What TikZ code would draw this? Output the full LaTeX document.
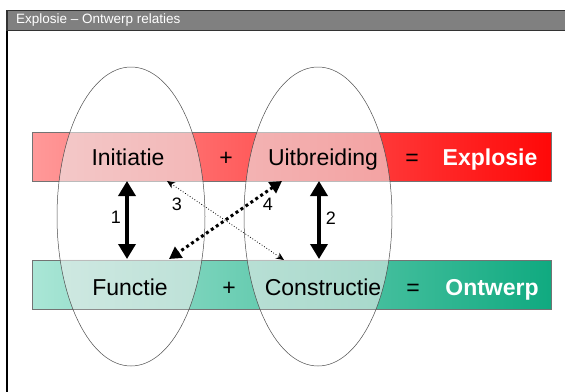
\documentclass[tikz,border=0pt]{standalone}
\usepackage{fontspec}
\setmainfont{Liberation Sans}
\usetikzlibrary{arrows.meta,shapes.geometric}

\definecolor{barpink}{RGB}{255,153,153}
\definecolor{barred}{RGB}{255,8,8}
\definecolor{barmint}{RGB}{170,230,214}
\definecolor{bargreen}{RGB}{16,170,128}
\definecolor{titlegray}{RGB}{128,128,128}

\begin{document}
\begin{tikzpicture}[x=1pt,y=-1pt,
  word/.style={anchor=base, font=\fontsize{23}{27}\selectfont},
  result/.style={word, text=white, font=\fontsize{23}{27}\selectfont\bfseries},
  num/.style={font=\fontsize{18}{21}\selectfont},
  bar/.style={draw=black!55, line width=0.6pt, minimum width=519pt, minimum height=49pt, inner sep=0pt},
  oval/.style={ellipse, draw=black!70, line width=0.5pt, minimum width=148pt, minimum height=299pt, inner sep=0pt},
  shade/.style={oval, draw=none, fill=gray!15, fill opacity=0.6},
  solidlink/.style={line width=3.5pt, {Triangle[length=15pt,width=17pt]}-{Triangle[length=15pt,width=17pt]}},
  thinlink/.style={line width=0.8pt, dotted, {Stealth[length=8pt,width=7pt]}-{Stealth[length=8pt,width=7pt]}},
  dotlink/.style={line width=3pt, dash pattern=on 3pt off 3pt, {Triangle[length=12pt,width=13pt]}-{Triangle[length=12pt,width=13pt]}}]
\useasboundingbox (0,0) rectangle (565,391);

% title bar
\draw[draw=black!80, line width=1.5pt, fill=titlegray] (7,10.5) rectangle (575,30.5);
\node[anchor=west, text=white, inner sep=0pt, font=\fontsize{13.5}{16}\selectfont] (title) at (16,20.5) {Explosie – Ontwerp relaties};
\draw[line width=1.5pt] (7,30.5) -- (7,395);

% bars
\node[bar, left color=barpink, right color=barred] (redbar) at (291.5,157) {};
\node[bar, left color=barmint, right color=bargreen] (greenbar) at (291.5,284.5) {};

% ovals, shaded only where they lie on the bars
\begin{scope}
  \clip (redbar.north west) rectangle (redbar.south east)
        (greenbar.north west) rectangle (greenbar.south east);
  \node[shade] (leftshade) at (131,216.5) {};
  \node[shade] (rightshade) at (318,216.5) {};
\end{scope}
\node[oval] (leftoval) at (131,216.5) {};
\node[oval] (rightoval) at (318,216.5) {};

% words
\node[word] (init) at (128,165) {Initiatie};
\node[word] (plusa) at (226,165) {+};
\node[word] (uitb) at (323,165) {Uitbreiding};
\node[word] (isa) at (412,165) {=};
\node[result] (expl) at (490,165) {Explosie};

\node[word] (func) at (130,295) {Functie};
\node[word] (plusb) at (229,295) {+};
\node[word] (cons) at (323,295) {Constructie};
\node[word] (isb) at (413,295) {=};
\node[result] (ontw) at (492,295) {Ontwerp};

% arrow ends
\coordinate (a1) at (127,181);
\coordinate (b1) at (127,259);
\coordinate (a2) at (319,181);
\coordinate (b2) at (319,259);
\coordinate (a3) at (167,181);
\coordinate (b3) at (284,260);
\coordinate (a4) at (282,181);
\coordinate (b4) at (169,259);

\draw[solidlink] (a1) -- (b1);
\draw[solidlink] (a2) -- (b2);
\draw[thinlink] (a3) -- (b3);
\draw[dotlink] (a4) -- (b4);

\node[num] (n1) at (116,217) {1};
\node[num] (n2) at (331,218) {2};
\node[num] (n3) at (177,204) {3};
\node[num] (n4) at (268,204) {4};
\end{tikzpicture}
\end{document}
